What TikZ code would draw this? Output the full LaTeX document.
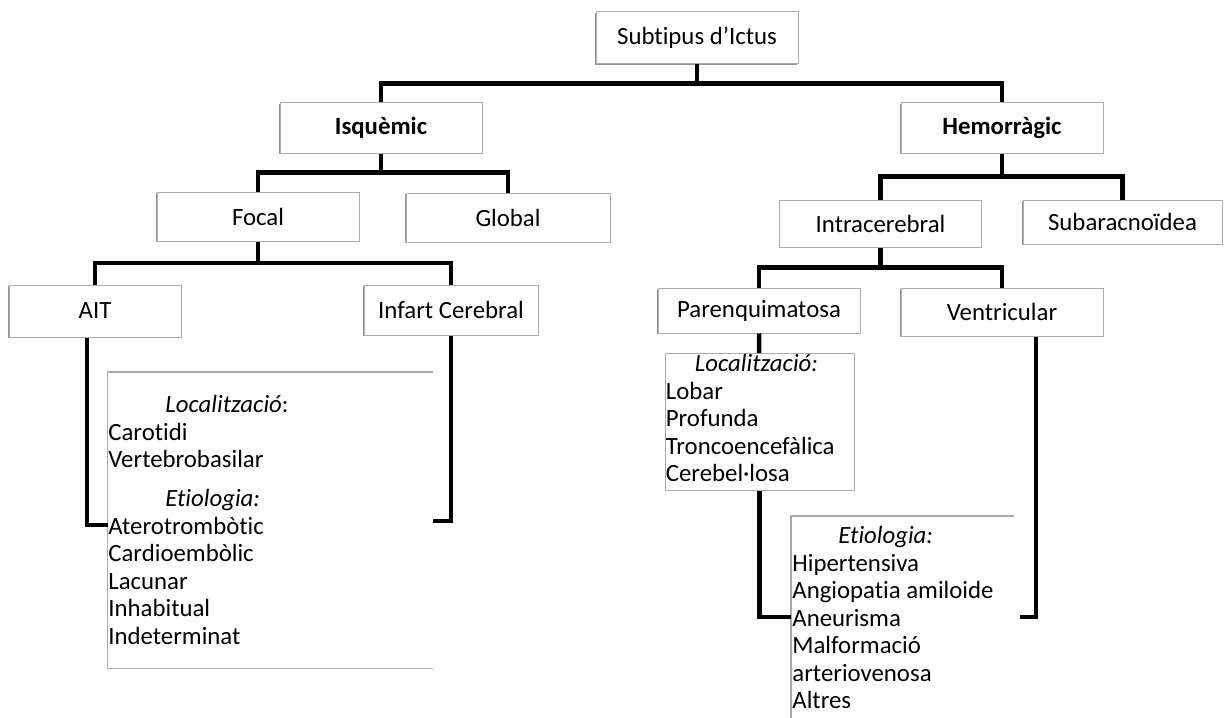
\documentclass[tikz,border=0pt]{standalone}
\usepackage{fontspec}
\setmainfont{Carlito}[Ligatures=NoCommon]
\usetikzlibrary{calc,shadows}
\begin{document}
\begin{tikzpicture}[x=0.5pt, y=-0.5pt,
  blk/.style={draw=gray!65, line width=0.5pt, fill=white, minimum width=101pt, minimum height=25pt, inner sep=1pt,
    font=\fontsize{12.4}{14}\selectfont, drop shadow={shadow xshift=-0.4pt, shadow yshift=-0.6pt, fill=gray!85, opacity=1}},
  conn/.style={line width=2.25pt},
  frm/.style={draw=gray!65, line width=0.6pt},
  panel/.style={inner sep=0pt, anchor=north west},
  lst/.style={inner sep=0pt, anchor=north west, align=left, font=\fontsize{12.4}{13.75}\selectfont}]
  \useasboundingbox (0,0) rectangle (1224,717);
  \node[blk, minimum height=26pt] (subt) at (697,38) {Subtipus d’Ictus};
  \node[blk, font=\fontsize{12.4}{14}\selectfont\bfseries] (isq) at (381,128) {Isquèmic};
  \node[blk, font=\fontsize{12.4}{14}\selectfont\bfseries] (hem) at (1002,128) {Hemorràgic};
  \node[blk, minimum height=24.5pt] (focal) at (258,216.5) {Focal};
  \node[blk, minimum height=24.5pt, minimum width=102pt] (global) at (508,217.5) {Global};
  \node[blk, minimum height=26pt, minimum width=86pt] (ait) at (95,311) {AIT};
  \node[blk, minimum width=87pt] (infart) at (451,310) {Infart Cerebral};
  \node[blk, minimum height=23.5pt] (intra) at (880.5,223.5) {Intracerebral};
  \node[blk, minimum height=22pt, minimum width=99.5pt] (subar) at (1122.5,222) {Subaracnoïdea};
  \node[blk, minimum height=22.5pt] (parenq) at (759,310.5) {Parenquimatosa};
  \node[blk, minimum height=24pt] (ventr) at (1002,312) {Ventricular};

  \node[panel, minimum width=162.25pt, minimum height=148pt] (locA) at (107.5,372) {};
  \node[panel, frm, minimum width=94.5pt, minimum height=68.5pt] (locB) at (664.5,353) {};
  \node[panel, minimum width=111pt, minimum height=100.5pt] (etiB) at (791,516) {};
  \draw[frm] (locA.north east) -- (locA.north west) -- (locA.south west) -- (locA.south east);
  \draw[frm] (etiB.north east) -- (etiB.north west) -- (etiB.south west);

  \node[lst] (locAtxt) at (108,395) {\hspace*{28.5pt}\textit{Localització}:\\
    Carotidi\\
    Vertebrobasilar\\[5.75pt]
    \hspace*{28.5pt}\textit{Etiologia:}\\
    Aterotrombòtic\\
    Cardioembòlic\\
    Lacunar\\
    Inhabitual\\
    Indeterminat};
  \node[lst] (locBtxt) at (665.5,354) {\hspace*{14.5pt}\textit{Localització:}\\
    Lobar\\
    Profunda\\
    Troncoencefàlica\\
    Cerebel·losa};
  \node[lst] (etiBtxt) at (792,526) {\hspace*{23pt}\textit{Etiologia:}\\
    Hipertensiva\\
    Angiopatia amiloide\\
    Aneurisma\\
    Malformació\\
    arteriovenosa\\
    Altres};

  \coordinate (j1) at ($(subt.south)!.5!(isq.north)$);
  \coordinate (j2) at ($(isq.south)!.5!(focal.north)$);
  \coordinate (j3) at ($(focal.south)!.5!(ait.north)$);
  \coordinate (j4) at ($(hem.south)!.5!(intra.north)$);
  \coordinate (j5) at ($(intra.south)!.5!(parenq.north)$);
  \draw[conn] (subt.south) -- (subt.south |- j1);
  \draw[conn] (isq.north) |- (j1) -| (hem.north);
  \draw[conn] (isq.south) -- (isq.south |- j2);
  \draw[conn] (focal.north) |- (j2) -| (global.north);
  \draw[conn] (focal.south) -- (focal.south |- j3);
  \draw[conn] (ait.north) |- (j3) -| (infart.north);
  \draw[conn] (hem.south) -- (hem.south |- j4);
  \draw[conn] (intra.north) |- (j4) -| (subar.north);
  \draw[conn] (intra.south) -- (intra.south |- j5);
  \draw[conn] (parenq.north) |- (j5) -| (ventr.north);

  \draw[conn] ([xshift=-4pt]ait.south) |- ([yshift=-76.5pt]locA.north west);
  \draw[conn] (infart.south) |- ([yshift=-74.5pt]locA.north east);
  \draw[conn] (parenq) -- (locB);
  \draw[conn] (locB.south) |- ([yshift=-50.5pt]etiB.north west);
  \draw[conn] ([xshift=17pt]ventr.south) |- ([xshift=3pt,yshift=-50.5pt]etiB.north east);
\end{tikzpicture}
\end{document}
